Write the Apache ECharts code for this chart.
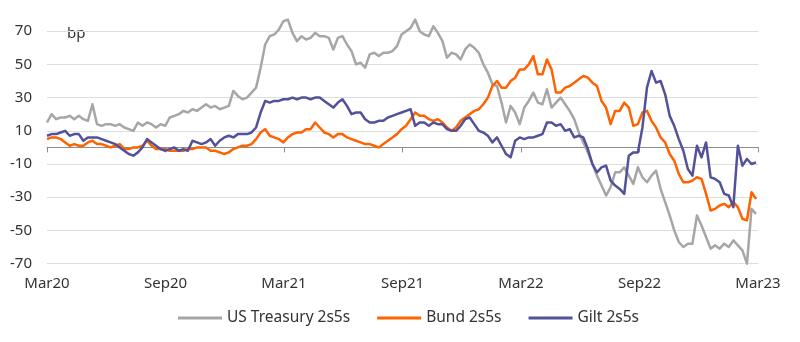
<!DOCTYPE html>
<html>
<head>
<meta charset="utf-8">
<script src="https://cdn.jsdelivr.net/npm/echarts@6/dist/echarts.min.js"></script>
<style>
html,body{margin:0;padding:0;background:#fff;}
#chart{width:800px;height:342px;}
</style>
</head>
<body>
<div id="chart"></div>
<script>
// Weekly observations, starting at the beginning of March 2020 (x = days since 1 Mar 2020)
const xLabels = ['Mar20', 'Sep20', 'Mar21', 'Sep21', 'Mar22', 'Sep22', 'Mar23'];
const yTicks = [-70, -50, -30, -10, 10, 30, 50, 70];
const seriesNames = ['US Treasury 2s5s', 'Bund 2s5s', 'Gilt 2s5s'];

const usValues = [
  15,20,17,18,18,19,17,19,17,16,
  26,14,13,14,14,13,14,12,11,10,
  15,13,15,14,12,14,13,18,19,20,
  22,21,23,22,24,26,24,25,23,24,
  25,34,31,29,30,33,36,48,62,67,
  68,71,76,77,69,64,67,65,66,69,
  67,67,66,59,66,67,62,58,50,51,
  48,56,57,55,57,57,58,61,68,70,
  72,77,70,68,67,73,69,64,54,57,
  56,53,59,62,60,57,50,45,38,37,
  27,15,25,21,14,24,28,33,27,26,
  35,24,27,30,26,22,17,9,3,-3,
  -10,-17,-23,-29,-24,-15,-15,-12,-17,-22,
  -12,-18,-21,-17,-14,-25,-33,-41,-50,-57,
  -60,-58,-58,-41,-47,-54,-61,-59,-61,-58,
  -60,-56,-59,-62,-70,-37,-40
];
const bundValues = [
  5,6,6,5,3,1,2,1,1,3,
  4,2,2,1,0,1,2,-1,-1,0,
  0,1,4,1,-1,-1,-1,-2,-2,-2,
  -2,-1,-1,0,0,0,-2,-2,-3,-4,
  -3,-1,0,1,1,2,5,9,11,7,
  6,5,3,6,8,9,9,11,11,15,
  12,9,8,6,8,8,6,5,4,3,
  2,2,1,0,2,4,6,8,11,13,
  17,21,19,19,17,16,17,15,12,10,
  12,16,18,20,22,23,26,30,37,40,
  36,36,40,42,47,47,50,55,44,44,
  53,47,33,33,36,37,39,41,43,42,
  39,37,28,24,14,22,22,27,24,13,
  14,21,22,16,12,6,3,-4,-8,-16,
  -21,-21,-20,-18,-19,-28,-38,-37,-35,-34,
  -36,-33,-36,-43,-44,-27,-31
];
const giltValues = [
  7,8,8,9,10,7,8,8,4,6,
  6,6,5,4,3,2,0,-2,-4,-5,
  -3,0,5,3,1,-1,-2,-1,0,-2,
  -1,-2,4,3,2,3,5,1,4,6,
  7,6,8,8,8,9,12,21,28,27,
  28,28,29,29,30,29,30,30,29,30,
  30,28,26,24,27,29,25,20,21,21,
  17,15,15,16,16,18,19,20,21,22,
  23,13,15,15,13,15,14,14,11,10,
  10,13,17,18,14,10,9,7,3,6,
  1,-4,-6,4,6,5,6,6,7,8,
  15,15,13,14,10,11,6,7,6,-1,
  -10,-15,-12,-11,-20,-23,-25,-28,-5,-3,
  -3,12,36,46,39,40,32,19,13,5,
  -2,-13,-17,1,-6,3,-18,-19,-21,-28,
  -29,-36,1,-11,-7,-10,-9
];
const stepDays = 7;

const colors = ['#a6a6a6', '#ff6200', '#525199'];
const font = '"Noto Sans", "Open Sans", sans-serif';
const textColor = '#333333';

function toPairs(vals) {
  return vals.map((v, i) => [i * stepDays, v]);
}
const allValues = [usValues, bundValues, giltValues];

const chart = echarts.init(document.getElementById('chart'), null, {renderer: 'canvas'});
const labelStep = 182.5;
const option = {
  animation: false,
  backgroundColor: '#ffffff',
  textStyle: {fontFamily: font},
  grid: {left: 47, right: 42, top: 31.2, bottom: 78.4, containLabel: false},
  graphic: [{
    type: 'text', left: 67, top: 26,
    style: {text: 'bp', fontFamily: font, fontSize: 15, fill: textColor}
  }],
  legend: {
    left: 178, top: 310, padding: 0,
    icon: 'rect', itemWidth: 44, itemHeight: 3, itemGap: 27,
    textStyle: {fontFamily: font, fontSize: 15.5, color: textColor},
    data: seriesNames
  },
  xAxis: [{
    type: 'value', min: 0, max: 1095, interval: labelStep,
    axisLine: {show: true, onZero: true, lineStyle: {color: '#8c8c8c', width: 1}},
    axisTick: {show: true, length: 5, lineStyle: {color: '#8c8c8c'}},
    axisLabel: {show: false},
    splitLine: {show: false}
  }, {
    type: 'value', min: 0, max: 1095, interval: labelStep, position: 'bottom',
    axisLine: {show: false, onZero: false},
    axisTick: {show: false},
    splitLine: {show: false},
    axisLabel: {
      show: true, margin: 13, fontFamily: font, fontSize: 15, color: textColor,
      showMinLabel: true, showMaxLabel: true,
      formatter: v => xLabels[Math.round(v / labelStep)] || ''
    }
  }],
  yAxis: {
    type: 'value', min: yTicks[0], max: yTicks[yTicks.length - 1], interval: 20,
    axisLine: {show: false}, axisTick: {show: false},
    axisLabel: {margin: 15, fontFamily: font, fontSize: 15, color: textColor},
    splitLine: {show: true, lineStyle: {color: '#dedede', width: 1}}
  },
  series: seriesNames.map((name, k) => ({
    name: name, type: 'line', xAxisIndex: 0,
    data: toPairs(allValues[k]),
    showSymbol: false, symbol: 'none', clip: false,
    lineStyle: {color: colors[k], width: 2.5, join: 'round'},
    itemStyle: {color: colors[k]},
    z: 2 + k
  }))
};
chart.setOption(option);
</script>
</body>
</html>
